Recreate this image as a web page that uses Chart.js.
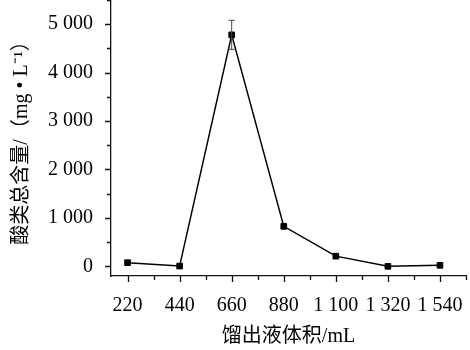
<!DOCTYPE html>
<html>
<head>
<meta charset="utf-8">
<script src="https://cdn.jsdelivr.net/npm/chart.js@4.4.0/dist/chart.umd.min.js"></script>
<style>
  html, body { margin: 0; padding: 0; background: #fff; }
  #wrap { width: 470px; height: 350px; }
</style>
</head>
<body>
<div id="wrap"><canvas id="acidChart"></canvas></div>
<script>
// distillate volume (mL) and total acid content (mg/L)
const volumes = [220, 440, 660, 880, 1100, 1320, 1540];
const acidTotal = [75, 5, 4780, 825, 210, 0, 20];
const acidError = [0, 0, 300, 0, 0, 0, 0];

const xTicks = [220, 330, 440, 550, 660, 770, 880, 990, 1100, 1210, 1320, 1430, 1540, 1650];
const xLabelTicks = [220, 440, 660, 880, 1100, 1320, 1540];
const yTicks = [0, 500, 1000, 1500, 2000, 2500, 3000, 3500, 4000, 4500, 5000, 5500];
const yLabelTicks = [0, 1000, 2000, 3000, 4000, 5000];

const serif = '"Liberation Serif", "Times New Roman", "Noto Sans CJK SC", serif';

function spaced(v) {
  if (v < 1000) return String(v);
  const rest = String(v % 1000).padStart(3, "0");
  return Math.floor(v / 1000) + " " + rest;
}

// tick marks drawn by hand so minor ones can be shorter
const tickMarks = {
  id: "tickMarks",
  afterDraw(chart) {
    const ctx = chart.ctx;
    const xs = chart.scales.x;
    const ys = chart.scales.y;
    ctx.save();
    ctx.strokeStyle = "#111";
    ctx.lineWidth = 1.3;
    ctx.beginPath();
    xTicks.forEach((v) => {
      const px = Math.round(xs.getPixelForValue(v)) + 0.5;
      const len = xLabelTicks.includes(v) ? 6 : 4;
      ctx.moveTo(px, xs.top);
      ctx.lineTo(px, xs.top + len);
    });
    yTicks.forEach((v) => {
      const py = Math.round(ys.getPixelForValue(v)) + 0.5;
      const len = yLabelTicks.includes(v) ? 6 : 4;
      ctx.moveTo(ys.right, py);
      ctx.lineTo(ys.right - len, py);
    });
    ctx.stroke();
    ctx.restore();
  },
};

// error bar on the data points
const errorBars = {
  id: "errorBars",
  afterDatasetsDraw(chart) {
    const ctx = chart.ctx;
    const xs = chart.scales.x;
    const ys = chart.scales.y;
    ctx.save();
    ctx.strokeStyle = "#444";
    ctx.lineWidth = 1;
    volumes.forEach((v, i) => {
      if (!acidError[i]) return;
      const px = xs.getPixelForValue(v);
      const top = ys.getPixelForValue(acidTotal[i] + acidError[i]);
      const bot = ys.getPixelForValue(acidTotal[i] - acidError[i]);
      ctx.beginPath();
      ctx.moveTo(px, top);
      ctx.lineTo(px, bot);
      ctx.moveTo(px - 3, top);
      ctx.lineTo(px + 3, top);
      ctx.moveTo(px - 3, bot);
      ctx.lineTo(px + 3, bot);
      ctx.stroke();
    });
    ctx.restore();
  },
};

new Chart(document.getElementById("acidChart"), {
  type: "line",
  data: {
    datasets: [
      {
        data: volumes.map((v, i) => ({ x: v, y: acidTotal[i] })),
        borderColor: "#000",
        borderWidth: 1.5,
        backgroundColor: "#000",
        pointStyle: "rect",
        pointRadius: 4,
        pointBorderWidth: 1,
        pointBorderColor: "#000",
        pointBackgroundColor: "#000",
        tension: 0,
        clip: false,
      },
    ],
  },
  options: {
    responsive: true,
    maintainAspectRatio: false,
    animation: false,
    layout: { autoPadding: false, padding: { top: 0, right: 4, bottom: 0, left: 0 } },
    plugins: {
      legend: { display: false },
      tooltip: { enabled: false },
    },
    scales: {
      x: {
        type: "linear",
        min: 150,
        max: 1650,
        afterBuildTicks: (scale) => {
          scale.ticks = xTicks.map((v) => ({ value: v }));
        },
        afterFit: (scale) => {
          scale.height = 74;
          scale.paddingLeft = 0;
          scale.paddingRight = 0;
        },
        grid: { drawOnChartArea: false, drawTicks: false },
        border: { display: true, color: "#111", width: 1.3 },
        ticks: {
          autoSkip: false,
          maxRotation: 0,
          padding: 18,
          color: "#000",
          font: { family: serif, size: 20 },
          callback: (v) => (xLabelTicks.includes(v) ? spaced(v) : ""),
        },
        title: {
          display: true,
          text: "馏出液体积/mL",
          color: "#000",
          font: { family: serif, size: 20 },
          padding: { top: 0, bottom: 1 },
        },
      },
      y: {
        min: -200,
        max: 5500,
        afterBuildTicks: (scale) => {
          scale.ticks = yTicks.map((v) => ({ value: v }));
        },
        afterFit: (scale) => {
          scale.width = 111;
          scale.paddingTop = 0;
          scale.paddingBottom = 0;
        },
        grid: { drawOnChartArea: false, drawTicks: false },
        border: { display: true, color: "#111", width: 1.3 },
        ticks: {
          autoSkip: false,
          padding: 18,
          color: "#000",
          font: { family: serif, size: 20 },
          callback: (v) => (yLabelTicks.includes(v) ? spaced(v) : ""),
        },
        title: {
          display: true,
          text: "酸类总含量/（mg • L⁻¹）",
          color: "#000",
          font: { family: serif, size: 20 },
          padding: { top: 10, bottom: 0 },
        },
      },
    },
  },
  plugins: [tickMarks, errorBars],
});
</script>
</body>
</html>
